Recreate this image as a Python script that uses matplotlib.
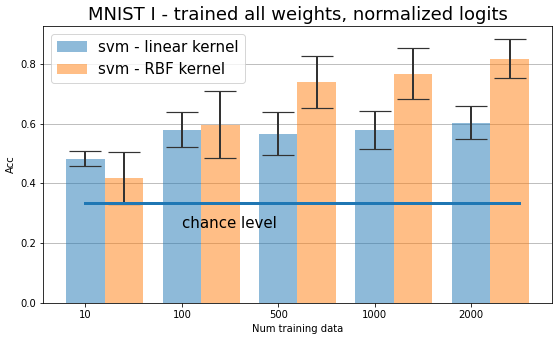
import matplotlib
matplotlib.use("Agg")
import matplotlib.pyplot as plt
import numpy as np

# ── data ─────────────────────────────────────────────────────────────────────
n_train = ["10", "100", "500", "1000", "2000"]
acc_linear = [0.482, 0.579, 0.566, 0.578, 0.602]
err_linear = [0.025, 0.058, 0.071, 0.064, 0.055]
acc_rbf = [0.418, 0.596, 0.739, 0.767, 0.817]
err_rbf = [0.086, 0.112, 0.087, 0.085, 0.065]
chance = 1 / 3

W, H, DPI = 558, 341, 72
fig = plt.figure(figsize=(W / DPI, H / DPI), dpi=DPI)
ax = fig.add_axes([43 / W, 1 - 303 / H, (552 - 43) / W, (303 - 26) / H])

x = np.arange(len(n_train))
bw = 0.4
err_kw = dict(ecolor="#333333", capsize=16, elinewidth=2, capthick=1.2)
ax.bar(x, acc_linear, bw, yerr=err_linear, color="C0", alpha=0.5,
       label="svm - linear kernel", error_kw=err_kw)
ax.bar(x + bw, acc_rbf, bw, yerr=err_rbf, color="C1", alpha=0.5,
       label="svm - RBF kernel", error_kw=err_kw)

ax.plot([0, 4.5], [chance, chance], color="C0", lw=3, zorder=5)
ax.text(1, 0.25, "chance level", fontsize=15, ha="left", va="baseline")

ax.set_xticks(x)
ax.set_xticklabels(n_train)
ax.set_yticks([0.0, 0.2, 0.4, 0.6, 0.8])
ax.yaxis.grid(True, color="#b0b0b0")
ax.set_axisbelow(True)
ax.set_xlabel("Num training data")
ax.set_ylabel("Acc")
ax.set_title("MNIST I - trained all weights, normalized logits", fontsize=18)
ax.legend(loc="upper left", fontsize=15)

fig.savefig("out.png", dpi=DPI, facecolor="white")
